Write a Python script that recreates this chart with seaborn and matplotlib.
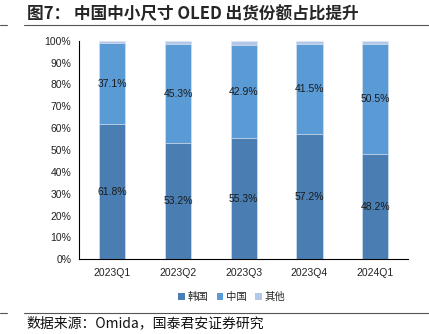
import matplotlib
matplotlib.use("Agg")
import matplotlib.pyplot as plt
from matplotlib.lines import Line2D
from matplotlib.patches import Patch
import seaborn as sns
import pandas as pd
import numpy as np

categories = ["2023Q1", "2023Q2", "2023Q3", "2023Q4", "2024Q1"]
korea = [61.8, 53.2, 55.3, 57.2, 48.2]
china = [37.1, 45.3, 42.9, 41.5, 50.5]
other = [1.1, 1.5, 1.8, 1.3, 1.3]
series_names = ["韩国", "中国", "其他"]
colors = ["#4A7EB2", "#5B9BD5", "#B4C7E7"]
yticks = [0, 10, 20, 30, 40, 50, 60, 70, 80, 90, 100]

sns.set_theme(style="white")
plt.rcParams["font.family"] = ["Liberation Sans", "Noto Sans CJK SC", "DejaVu Sans"]

fig = plt.figure(figsize=(4.29, 3.34), dpi=100)
ax = fig.add_axes([0.1853, 0.2237, 0.951 - 0.1853, 0.878 - 0.2237])

df = pd.DataFrame({"cat": categories, "k": korea, "c": china, "o": other})
df["kc"] = df["k"] + df["c"]
df["all"] = df["kc"] + df["o"]

for col, color in zip(["all", "kc", "k"], [colors[2], colors[1], colors[0]]):
    sns.barplot(data=df, x="cat", y=col, color=color, width=0.4, ax=ax,
                saturation=1, edgecolor="#DCE6F2", linewidth=0.5)

for i in range(len(categories)):
    ax.text(i, korea[i] / 2, f"{korea[i]:.1f}%", ha="center", va="center",
            fontsize=7.5, color="#1a1a1a")
    ax.text(i, korea[i] + china[i] / 2, f"{china[i]:.1f}%", ha="center", va="center",
            fontsize=7.5, color="#1a1a1a")

ax.set_xlim(-0.5, len(categories) - 0.5)
ax.set_ylim(0, 100)
ax.set_yticks(yticks)
ax.set_yticklabels([f"{v}%" for v in yticks], fontsize=7.5, color="#222222")
ax.set_xticks(range(len(categories)))
ax.set_xticklabels(categories, fontsize=7.5, color="#222222")
ax.set_xticks(np.arange(-0.5, len(categories)), minor=True)
ax.tick_params(axis="x", which="major", length=0, pad=6)
ax.tick_params(axis="x", which="minor", length=3, width=0.8, color="black", direction="out")
ax.tick_params(axis="y", length=3, width=0.8, color="black", direction="out", pad=3)
ax.set_xlabel("")
ax.set_ylabel("")
for s in ["top", "right"]:
    ax.spines[s].set_visible(False)
for s in ["left", "bottom"]:
    ax.spines[s].set_color("black")
    ax.spines[s].set_linewidth(0.8)

handles = [Patch(facecolor=c, edgecolor="none") for c in colors]
fig.legend(handles, series_names, loc="center", bbox_to_anchor=(232 / 429, 1 - 297 / 334),
           ncol=3, frameon=False, handlelength=0.6, handleheight=0.6,
           handletextpad=0.3, columnspacing=0.8,
           prop={"family": ["Noto Sans CJK SC"], "size": 7.5})

# title and rules
fig.text(27 / 429, 1 - 14 / 334, "图7： 中国中小尺寸 OLED 出货份额占比提升", ha="left", va="center",
         fontsize=12, fontweight="bold", family=["Noto Sans CJK SC", "DejaVu Sans"])
for y in [25, 312.5]:
    yf = 1 - y / 334
    fig.add_artist(Line2D([0, 7 / 429], [yf, yf], color="#555555", linewidth=0.8, transform=fig.transFigure))
    fig.add_artist(Line2D([24 / 429, 1], [yf, yf], color="#555555", linewidth=0.8, transform=fig.transFigure))
fig.text(26 / 429, 1 - 323 / 334, "数据来源：Omida，国泰君安证券研究", ha="left", va="center",
         fontsize=10, family=["Noto Sans CJK SC", "DejaVu Sans"], color="#111111")

fig.savefig("out.png", dpi=100)
